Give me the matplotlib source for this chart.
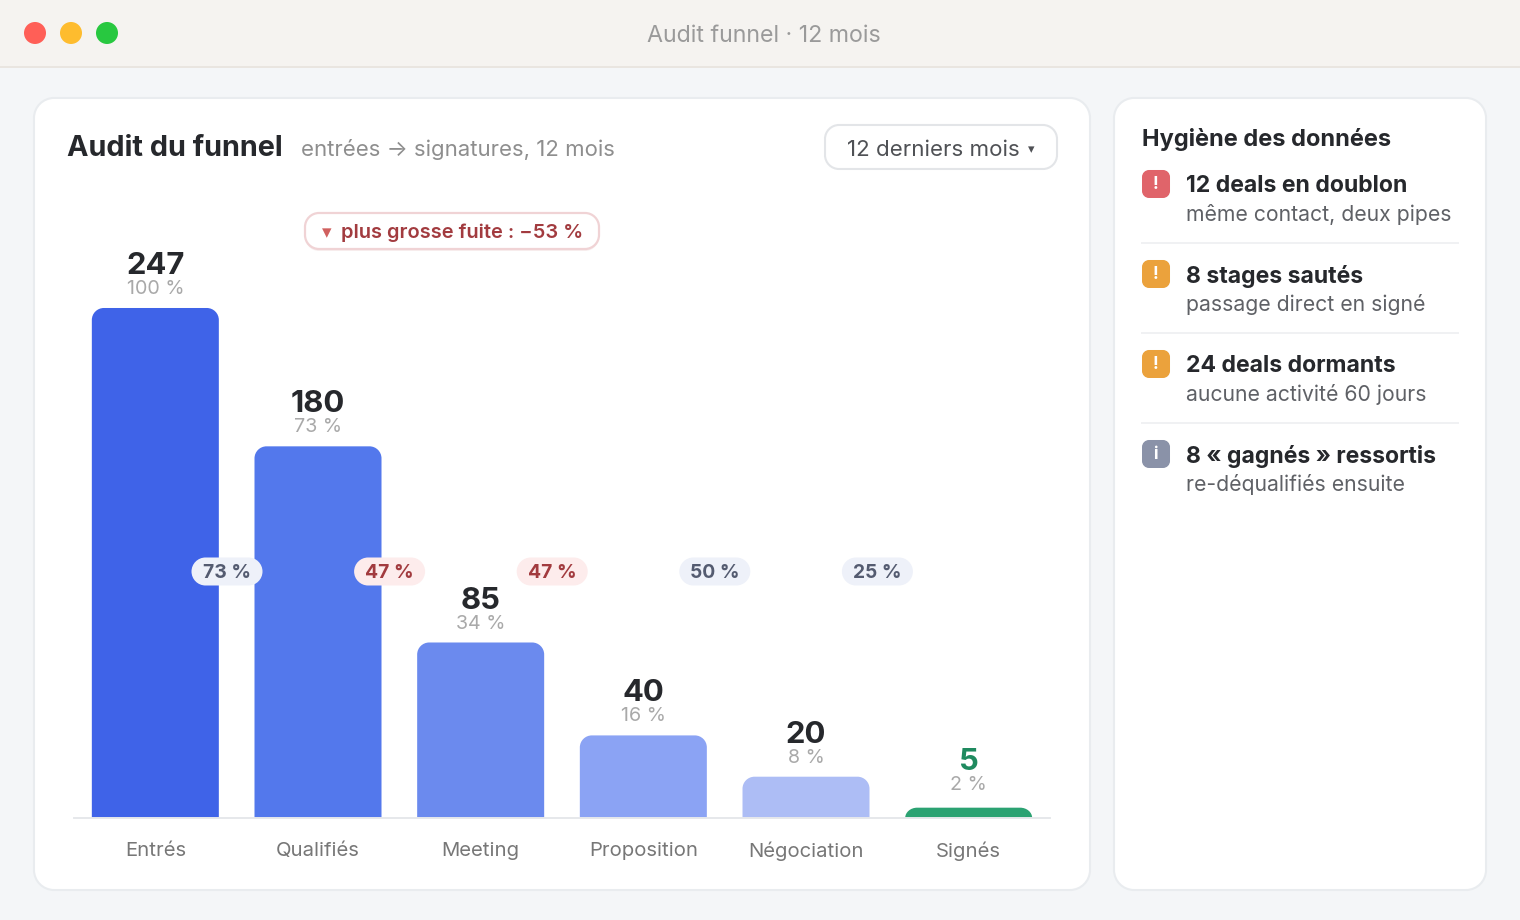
import matplotlib
matplotlib.use("Agg")
import matplotlib.pyplot as plt
from matplotlib.patches import PathPatch, Circle
from matplotlib.path import Path

# Funnel data
stages = ["Entrés", "Qualifiés", "Meeting", "Proposition", "Négociation", "Signés"]
counts = [247, 180, 85, 40, 20, 5]
shares = [100, 73, 34, 16, 8, 2]
step_rates = [73, 47, 47, 50, 25]
step_leak = [False, True, True, False, False]
biggest_leak = 53
bar_colors = ["#3F63E8", "#5378EC", "#6B8AEE", "#8BA3F4", "#ADBDF5", "#2BA272"]
value_colors = ["#26282C"] * 5 + ["#1F8A5F"]

# Data hygiene panel
issue_titles = ["12 deals en doublon", "8 stages sautés", "24 deals dormants", "8 « gagnés » ressortis"]
issue_notes = ["même contact, deux pipes", "passage direct en signé", "aucune activité 60 jours", "re-déqualifiés ensuite"]
issue_marks = ["!", "!", "!", "i"]
issue_colors = ["#E0646A", "#EBA23C", "#EBA23C", "#8A92A8"]

W, H = 1520, 920
FONT = ["Inter", "DejaVu Sans"]
plt.rcParams["font.family"] = FONT


def px(size):
    return size * 0.72


fig = plt.figure(figsize=((W + 0.01) / 100, (H + 0.01) / 100), dpi=100, facecolor="#F4F6F8")
bg = fig.add_axes([0, 0, 1, 1], zorder=0)
bg.set_xlim(0, W)
bg.set_ylim(H, 0)
bg.axis("off")
top = fig.add_axes([0, 0, 1, 1], zorder=3)
top.set_xlim(0, W)
top.set_ylim(H, 0)
top.axis("off")

KAPPA = 0.5523


def box(ax, x0, y0, x1, y1, r, fc, ec="none", lw=0, z=1):
    # rounded rectangle with true circular corners
    k = r * (1 - KAPPA)
    verts = [(x0 + r, y0), (x1 - r, y0), (x1 - k, y0), (x1, y0 + k), (x1, y0 + r),
             (x1, y1 - r), (x1, y1 - k), (x1 - k, y1), (x1 - r, y1),
             (x0 + r, y1), (x0 + k, y1), (x0, y1 - k), (x0, y1 - r),
             (x0, y0 + r), (x0, y0 + k), (x0 + k, y0), (x0 + r, y0), (x0 + r, y0)]
    codes = [Path.MOVETO, Path.LINETO, Path.CURVE4, Path.CURVE4, Path.CURVE4,
             Path.LINETO, Path.CURVE4, Path.CURVE4, Path.CURVE4,
             Path.LINETO, Path.CURVE4, Path.CURVE4, Path.CURVE4,
             Path.LINETO, Path.CURVE4, Path.CURVE4, Path.CURVE4, Path.CLOSEPOLY]
    p = PathPatch(Path(verts, codes), fc=fc, ec=ec, lw=lw, zorder=z)
    ax.add_patch(p)
    return p


def label(ax, x, y, s, size, color, weight="normal", ha="left", z=5):
    return ax.text(x, y, s, fontsize=px(size), color=color, fontweight=weight,
                   ha=ha, va="center_baseline", zorder=z)


# Window title bar
bg.add_patch(plt.Rectangle((0, 0), W, 67, fc="#F5F3F0", ec="none"))
bg.add_patch(plt.Rectangle((0, 66.5), W, 2, fc="#E9E5E0", ec="none"))
for cx, col in zip((35, 71, 107), ("#FF5F57", "#FEBC2E", "#28C840")):
    bg.add_patch(Circle((cx, 33), 11, fc=col, ec="none"))
label(bg, 764, 33, "Audit funnel · 12 mois", 23.2, "#9A9A9A", ha="center")

# Cards
box(bg, 34, 98, 1090, 890, 20, "#FFFFFF", "#E9ECEF", 1.5)
box(bg, 1114, 98, 1486, 890, 20, "#FFFFFF", "#E9ECEF", 1.5)

# Header of the main card
label(bg, 67, 145, "Audit du funnel", 28.8, "#26282C", "bold")
label(bg, 301, 147.5, "entrées → signatures, 12 mois", 22.2, "#8E8E8E")
box(bg, 825, 125, 1057, 169, 14, "#FFFFFF", "#E3E5E8", 1.5)
label(bg, 847, 148, "12 derniers mois", 22.3, "#4F5155")
label(bg, 1031, 149, "▾", 13, "#4F5155", ha="center")

# Funnel bars on their own value scale
BASE_Y, TOP_Y, LEFT, RIGHT = 818, 200, 74, 1050
SCALE = 510 / 247
ax = fig.add_axes([LEFT / W, 1 - BASE_Y / H, (RIGHT - LEFT) / W, (BASE_Y - TOP_Y) / H], zorder=1)
ax.patch.set_alpha(0)
ax.set_xlim(-0.5, 5.5)
ax.set_ylim(0, (BASE_Y - TOP_Y) / SCALE)
bar_w = 127 / ((RIGHT - LEFT) / 6)
rx = 12 / ((RIGHT - LEFT) / 6)
ry = 12 / SCALE


def rounded_bar(i, v, color):
    x0, x1 = i - bar_w / 2, i + bar_w / 2
    yr = min(ry, v)
    kx, ky = rx * (1 - KAPPA), yr * (1 - KAPPA)
    verts = [(x0, 0), (x0, v - yr), (x0, v - ky), (x0 + kx, v), (x0 + rx, v), (x1 - rx, v),
             (x1 - kx, v), (x1, v - ky), (x1, v - yr), (x1, 0), (x0, 0)]
    codes = [Path.MOVETO, Path.LINETO, Path.CURVE4, Path.CURVE4, Path.CURVE4, Path.LINETO,
             Path.CURVE4, Path.CURVE4, Path.CURVE4, Path.LINETO, Path.CLOSEPOLY]
    ax.add_patch(PathPatch(Path(verts, codes), fc=color, ec="none", zorder=2))


for i, (n, share, col, vcol) in enumerate(zip(counts, shares, bar_colors, value_colors)):
    rounded_bar(i, n, col)
    # the smallest bar keeps its labels clear of the rounded cap
    lift = 4 if n == min(counts) else 0
    ax.annotate(str(n), (i, n), xytext=(0, px(45 + lift)), textcoords="offset points", ha="center",
                va="center_baseline", fontsize=px(31), fontweight="bold", color=vcol)
    ax.annotate(f"{share} %", (i, n), xytext=(0, px(21 + lift)), textcoords="offset points", ha="center",
                va="center_baseline", fontsize=px(19.7), color="#A9A9A9")

ax.set_xticks(range(len(stages)), stages, fontsize=px(20.3), color="#777777")
ax.set_yticks([])
ax.tick_params(axis="x", length=0, pad=px(23.5))
for side in ("top", "left", "right"):
    ax.spines[side].set_visible(False)
ax.spines["bottom"].set_color("#E6E8EB")
ax.spines["bottom"].set_linewidth(1.4)

# Step conversion pills between the bars
for i, (rate, leak) in enumerate(zip(step_rates, step_leak)):
    cx = 227 + 162.6 * i
    box(top, cx - 35.5, 557.5, cx + 35.5, 585.5, 14, "#FDECEC" if leak else "#EEF1F9")
    label(top, cx, 571, f"{rate} %", 19.3, "#A23B3F" if leak else "#545B70", "bold", ha="center")

# Biggest-leak callout
box(top, 305, 215, 599, 251, 14, "#F8EFEF")
box(top, 305, 213, 599, 249, 14, "#FFFFFF", "#F0D3D5", 1.6)
label(top, 327, 231, "▾", 19, "#D0605F", ha="center")
label(top, 341, 231, f"plus grosse fuite : −{biggest_leak} %", 20, "#A23B3F", "semibold")

# Hygiene panel
label(bg, 1142, 136.5, "Hygiène des données", 23.6, "#26282C", "bold")
rows_y = [184, 274, 364, 454]
for j, (t, note, mark, col, y) in enumerate(zip(issue_titles, issue_notes, issue_marks, issue_colors, rows_y)):
    box(bg, 1142, y - 14, 1170, y + 14, 7, col)
    label(bg, 1155.5, y - 2, mark, 17, "#FFFFFF", "bold", ha="center")
    label(bg, 1186, y - 0.5, t, 23, "#26282C", "bold")
    label(bg, 1186, y + 28.5, note, 21.2, "#5F6166")
    if j < 3:
        bg.plot([1142, 1458], [y + 59, y + 59], color="#F0F1F3", lw=1.4, zorder=2)

fig.savefig("out.png", dpi=100, facecolor=fig.get_facecolor())
